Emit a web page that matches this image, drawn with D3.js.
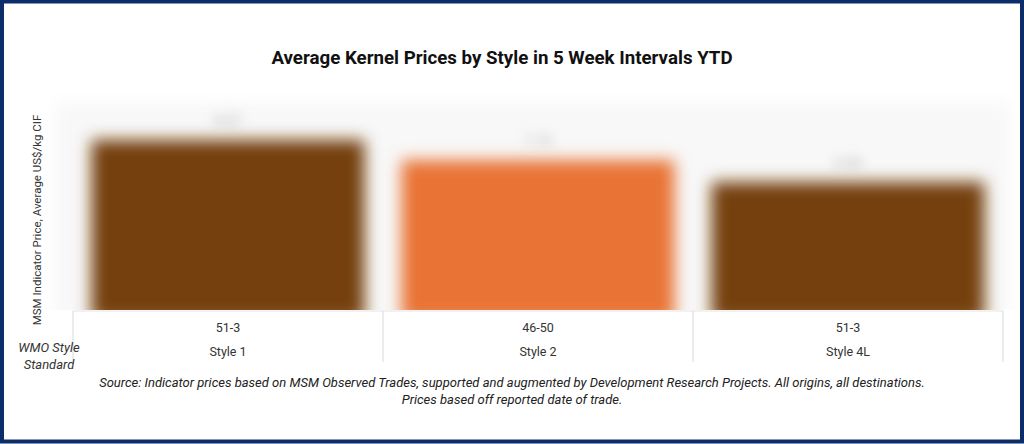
<!DOCTYPE html>
<html>
<head>
<meta charset="utf-8">
<script src="https://cdn.jsdelivr.net/npm/d3@7"></script>
<style>
  html, body { margin: 0; padding: 0; background: #fff; }
  svg { display: block; }
</style>
</head>
<body>
<div id="chart"></div>
<script>
// --- données ---
const styles = ["Style 1", "Style 2", "Style 4L"];
const wmoCodes = ["51-3", "46-50", "51-3"];
const prices = [8.07, 7.10, 6.04];
const barColors = ["#743f0a", "#e97336", "#743f0a"];

const titleText = "Average Kernel Prices by Style in 5 Week Intervals YTD";
const yTitle = "MSM Indicator Price, Average US$/kg CIF";
const sourceLines = [
  "Source: Indicator prices based on MSM Observed Trades, supported and augmented by Development Research Projects. All origins, all destinations.",
  "Prices based off reported date of trade."
];

const width = 1024, height = 444;
const font = "Roboto, 'Open Sans', sans-serif";

const svg = d3.select("#chart").append("svg")
  .attr("width", width)
  .attr("height", height);

// cadre bleu marine
svg.append("rect")
  .attr("x", 2).attr("y", 1.5)
  .attr("width", width - 4).attr("height", height - 4)
  .attr("fill", "#fff")
  .attr("stroke", "#0b2d69")
  .attr("stroke-width", 4);

// titre
svg.append("text")
  .attr("x", 502).attr("y", 64)
  .attr("text-anchor", "middle")
  .style("font-family", font)
  .style("font-size", "18.7px")
  .style("font-weight", "bold")
  .style("fill", "#111")
  .text(titleText);

// zone du graphique
const plot = { left: 73, right: 1003, top: 100, bottom: 310 };

const x = d3.scaleBand()
  .domain(styles)
  .range([plot.left, plot.right])
  .paddingInner(0.08)
  .paddingOuter(0.04);

const y = d3.scaleLinear()
  .domain([0, 10])
  .range([307, plot.top]);

const defs = svg.append("defs");
defs.append("filter")
  .attr("id", "blur")
  .attr("x", "-20%").attr("y", "-40%")
  .attr("width", "140%").attr("height", "180%")
  .append("feGaussianBlur")
  .attr("stdDeviation", 8);
defs.append("filter")
  .attr("id", "blurLabel")
  .attr("x", "-50%").attr("y", "-100%")
  .attr("width", "200%").attr("height", "300%")
  .append("feGaussianBlur")
  .attr("stdDeviation", 6);
defs.append("clipPath")
  .attr("id", "plotClip")
  .append("rect")
  .attr("x", 40).attr("y", 90)
  .attr("width", 980).attr("height", plot.bottom - 90);

const g = svg.append("g").attr("clip-path", "url(#plotClip)");

// fond légèrement grisé (flouté)
g.append("rect")
  .attr("x", 55).attr("y", plot.top + 2)
  .attr("width", 955).attr("height", plot.bottom - plot.top + 10)
  .attr("fill", "#f8f8f8")
  .attr("filter", "url(#blur)");

// barres
g.selectAll(".bar")
  .data(styles)
  .enter()
  .append("rect")
  .attr("class", "bar")
  .attr("x", d => x(d) + 6)
  .attr("y", (d, i) => y(prices[i]))
  .attr("width", x.bandwidth() - 12)
  .attr("height", (d, i) => y(0) - y(prices[i]) + 14)
  .attr("fill", (d, i) => barColors[i])
  .attr("filter", "url(#blur)");

// étiquettes de valeur (floutées)
g.selectAll(".val")
  .data(styles)
  .enter()
  .append("text")
  .attr("class", "val")
  .attr("x", d => x(d) + x.bandwidth() / 2)
  .attr("y", (d, i) => y(prices[i]) - 14)
  .attr("text-anchor", "middle")
  .style("font-family", font)
  .style("font-size", "14px")
  .style("fill", "#aaa")
  .attr("filter", "url(#blurLabel)")
  .text((d, i) => d3.format(".2f")(prices[i]));

// axe des catégories (deux niveaux)
const axisG = svg.append("g");
axisG.append("line")
  .attr("x1", plot.left).attr("x2", plot.right)
  .attr("y1", 311).attr("y2", 311)
  .attr("stroke", "#e4e4e4");

const bounds = styles.map(d => x(d) - x.step() * x.paddingInner() / 2);
bounds[0] = plot.left;
bounds.push(plot.right);
axisG.selectAll(".sep")
  .data(bounds)
  .enter()
  .append("line")
  .attr("x1", d => d).attr("x2", d => d)
  .attr("y1", 311).attr("y2", 362)
  .attr("stroke", "#d9d9d9");

axisG.selectAll(".code")
  .data(styles)
  .enter()
  .append("text")
  .attr("x", (d, i) => (bounds[i] + bounds[i + 1]) / 2)
  .attr("y", 332)
  .attr("text-anchor", "middle")
  .style("font-family", font)
  .style("font-size", "12.5px")
  .style("fill", "#333")
  .text((d, i) => wmoCodes[i]);

axisG.selectAll(".style")
  .data(styles)
  .enter()
  .append("text")
  .attr("x", (d, i) => (bounds[i] + bounds[i + 1]) / 2)
  .attr("y", 356)
  .attr("text-anchor", "middle")
  .style("font-family", font)
  .style("font-size", "12.5px")
  .style("fill", "#333")
  .text(d => d);

// titre des axes
svg.append("text")
  .attr("transform", "translate(41,220) rotate(-90)")
  .attr("text-anchor", "middle")
  .style("font-family", font)
  .style("font-size", "11.5px")
  .style("fill", "#333")
  .text(yTitle);

const wmo = svg.append("text")
  .attr("text-anchor", "middle")
  .style("font-family", font)
  .style("font-size", "13px")
  .style("font-style", "italic")
  .style("fill", "#333");
wmo.append("tspan").attr("x", 49).attr("y", 352).text("WMO Style");
wmo.append("tspan").attr("x", 49).attr("y", 369).text("Standard");

// source
svg.selectAll(".src")
  .data(sourceLines)
  .enter()
  .append("text")
  .attr("x", 512)
  .attr("y", (d, i) => 387 + i * 17)
  .attr("text-anchor", "middle")
  .style("font-family", font)
  .style("font-size", "13px")
  .style("font-style", "italic")
  .style("fill", "#222")
  .text(d => d);
</script>
</body>
</html>
